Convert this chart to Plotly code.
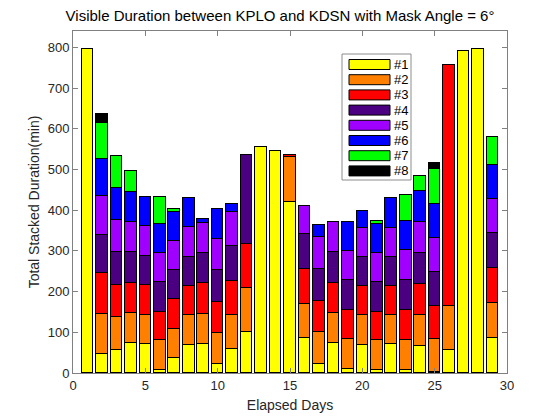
import plotly.graph_objects as go

days = list(range(1, 30))
series_names = ["#1", "#2", "#3", "#4", "#5", "#6", "#7", "#8"]
s1 = [795, 47, 57, 74, 71, 8, 37, 70, 72, 22, 59, 101, 555, 545, 420, 85, 22, 74, 9, 70, 7, 71, 7, 67, 2, 56, 792, 796, 86]
s2 = [0, 99, 80, 73, 72, 72, 72, 72, 74, 76, 84, 108, 0, 0, 110, 85, 78, 73, 74, 72, 73, 71, 75, 75, 81, 108, 0, 0, 87]
s3 = [0, 99, 80, 75, 72, 71, 72, 72, 74, 77, 84, 109, 0, 0, 5, 85, 78, 75, 72, 71, 71, 72, 73, 76, 81, 593, 0, 0, 85]
s4 = [0, 94, 80, 75, 72, 72, 72, 72, 74, 79, 85, 217, 0, 0, 0, 86, 78, 75, 73, 71, 72, 71, 73, 76, 84, 0, 0, 0, 86]
s5 = [0, 95, 78, 74, 73, 71, 71, 73, 74, 76, 84, 0, 0, 0, 0, 70, 78, 74, 71, 72, 71, 72, 73, 77, 83, 0, 0, 0, 84]
s6 = [0, 91, 79, 74, 73, 72, 71, 70, 11, 73, 19, 0, 0, 0, 0, 0, 29, 0, 73, 42, 72, 72, 73, 77, 85, 0, 0, 0, 83]
s7 = [0, 90, 78, 52, 0, 67, 8, 0, 0, 0, 0, 0, 0, 0, 0, 0, 0, 0, 0, 0, 7, 0, 64, 37, 85, 0, 0, 0, 69]
s8 = [0, 20, 0, 0, 0, 0, 0, 0, 0, 0, 0, 0, 0, 0, 0, 0, 0, 0, 0, 0, 0, 0, 0, 0, 14, 0, 0, 0, 0]
all_series = [s1, s2, s3, s4, s5, s6, s7, s8]
colors = ["#FFFF00", "#FF8000", "#FF0000", "#4B0082", "#9F00FF", "#0000FF", "#00FF00", "#000000"]

FONT = "Liberation Sans, Arial, Helvetica, sans-serif"

fig = go.Figure()
for name, vals, col in zip(series_names, all_series, colors):
    fig.add_trace(go.Bar(
        x=days, y=[v if v else None for v in vals], name=name,
        marker=dict(color=col, line=dict(color="#000000", width=1)),
        width=0.8, showlegend=False,
    ))

W, H = 560, 420
L, R, T, B = 73, 53, 31, 47
pw, ph = W - L - R, H - T - B

def px(x):
    return (x - L) / pw

def py(y):
    return (H - B - y) / ph

shapes = [dict(type="rect", xref="paper", yref="paper",
               x0=px(342), x1=px(411), y0=py(180), y1=py(54),
               line=dict(color="#8c8c8c", width=1), fillcolor="white", layer="above")]
annotations = []
for i, (name, col) in enumerate(zip(series_names, colors)):
    cy = 64.5 + 15.2 * i
    shapes.append(dict(type="rect", xref="paper", yref="paper",
                       x0=px(349), x1=px(390), y0=py(cy + 5), y1=py(cy - 5),
                       line=dict(color="#000000", width=1), fillcolor=col, layer="above"))
    annotations.append(dict(xref="paper", yref="paper", x=px(392), y=py(cy),
                            text=name, showarrow=False, xanchor="left", yanchor="middle",
                            font=dict(family=FONT, size=13, color="#000000")))

fig.update_layout(
    width=W, height=H,
    margin=dict(l=L, r=R, t=T, b=B, autoexpand=False),
    paper_bgcolor="white", plot_bgcolor="white",
    barmode="stack", bargap=0,
    font=dict(family=FONT, size=13, color="#262626"),
    title=dict(text="Visible Duration between KPLO and KDSN with Mask Angle = 6°",
               x=px(290), xanchor="center", y=1 - 16 / H, yanchor="middle",
               font=dict(family=FONT, size=15, color="#000000")),
    xaxis=dict(range=[0, 30], tickmode="array", tickvals=[0, 5, 10, 15, 20, 25, 30],
               ticks="inside", ticklen=5, tickcolor="#808080", showline=True,
               linecolor="#808080", linewidth=1, mirror="allticks", showgrid=False,
               zeroline=False, automargin=False,
               title=dict(text="Elapsed Days", standoff=8,
                          font=dict(family=FONT, size=14, color="#262626"))),
    yaxis=dict(range=[0, 840], tickmode="array", tickvals=list(range(0, 801, 100)),
               ticks="inside", ticklen=5, tickcolor="#808080", showline=True,
               linecolor="#808080", linewidth=1, mirror="allticks", showgrid=False,
               zeroline=False, automargin=False,
               title=dict(text="Total Stacked Duration(min)", standoff=4,
                          font=dict(family=FONT, size=14, color="#262626"))),
    shapes=shapes, annotations=annotations,
)

fig.write_html("out.html", config={"displayModeBar": False},
               post_script="document.body.style.margin='0px';")
